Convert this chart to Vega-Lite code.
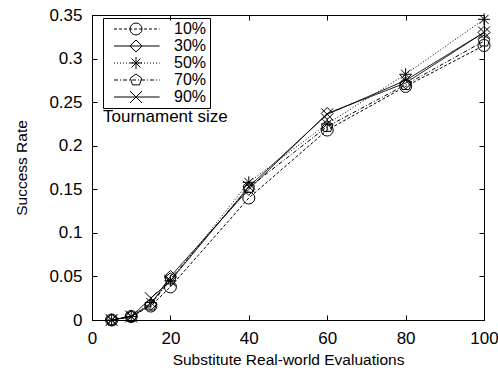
{
  "$schema": "https://vega.github.io/schema/vega-lite/v6.json",
  "width": 392,
  "height": 305,
  "autosize": {"type": "none"},
  "padding": {"left": 92, "top": 15, "right": 14, "bottom": 61},
  "background": "white",
  "config": {
    "font": "Liberation Sans",
    "view": {"stroke": "black", "strokeWidth": 1},
    "axis": {
      "grid": false,
      "domain": false,
      "labelFlush": false,
      "labelOverlap": false,
      "tickColor": "black",
      "tickSize": -5,
      "labelColor": "black",
      "labelFontSize": 17,
      "titleFontSize": 15.5,
      "titleFontWeight": "normal",
      "titleColor": "black"
    }
  },
  "data": {
    "values": [
      {"x": 5, "rate": 0.0, "size": "10%"},
      {"x": 10, "rate": 0.004, "size": "10%"},
      {"x": 15, "rate": 0.016, "size": "10%"},
      {"x": 20, "rate": 0.038, "size": "10%"},
      {"x": 40, "rate": 0.14, "size": "10%"},
      {"x": 60, "rate": 0.218, "size": "10%"},
      {"x": 80, "rate": 0.268, "size": "10%"},
      {"x": 100, "rate": 0.315, "size": "10%"},
      {"x": 5, "rate": 0.0, "size": "30%"},
      {"x": 10, "rate": 0.004, "size": "30%"},
      {"x": 15, "rate": 0.018, "size": "30%"},
      {"x": 20, "rate": 0.05, "size": "30%"},
      {"x": 40, "rate": 0.15, "size": "30%"},
      {"x": 60, "rate": 0.237, "size": "30%"},
      {"x": 80, "rate": 0.272, "size": "30%"},
      {"x": 100, "rate": 0.33, "size": "30%"},
      {"x": 5, "rate": 0.0, "size": "50%"},
      {"x": 10, "rate": 0.004, "size": "50%"},
      {"x": 15, "rate": 0.02, "size": "50%"},
      {"x": 20, "rate": 0.045, "size": "50%"},
      {"x": 40, "rate": 0.158, "size": "50%"},
      {"x": 60, "rate": 0.225, "size": "50%"},
      {"x": 80, "rate": 0.282, "size": "50%"},
      {"x": 100, "rate": 0.345, "size": "50%"},
      {"x": 5, "rate": 0.0, "size": "70%"},
      {"x": 10, "rate": 0.004, "size": "70%"},
      {"x": 15, "rate": 0.017, "size": "70%"},
      {"x": 20, "rate": 0.047, "size": "70%"},
      {"x": 40, "rate": 0.152, "size": "70%"},
      {"x": 60, "rate": 0.222, "size": "70%"},
      {"x": 80, "rate": 0.27, "size": "70%"},
      {"x": 100, "rate": 0.32, "size": "70%"},
      {"x": 5, "rate": 0.0, "size": "90%"},
      {"x": 10, "rate": 0.004, "size": "90%"},
      {"x": 15, "rate": 0.025, "size": "90%"},
      {"x": 20, "rate": 0.045, "size": "90%"},
      {"x": 40, "rate": 0.153, "size": "90%"},
      {"x": 60, "rate": 0.236, "size": "90%"},
      {"x": 80, "rate": 0.275, "size": "90%"},
      {"x": 100, "rate": 0.33, "size": "90%"}
    ]
  },
  "resolve": {"axis": {"x": "independent", "y": "independent"}},
  "layer": [
    {
      "mark": {"type": "line", "color": "black", "strokeWidth": 1},
      "encoding": {
        "x": {"field": "x", "type": "quantitative", "scale": {"domain": [0, 100], "nice": false},
              "axis": {"title": "Substitute Real-world Evaluations", "values": [0, 20, 40, 60, 80, 100], "labelPadding": 15, "titlePadding": 6}},
        "y": {"field": "rate", "type": "quantitative", "scale": {"domain": [0, 0.35], "nice": false},
              "axis": {"title": "Success Rate", "values": [0, 0.05, 0.1, 0.15, 0.2, 0.25, 0.3, 0.35], "format": ".2~f", "labelPadding": 15, "titlePadding": 19}},
        "strokeDash": {
          "field": "size", "type": "nominal",
          "scale": {"domain": ["10%", "30%", "50%", "70%", "90%"], "range": [[3, 2], [1, 0], [1, 2], [4, 2, 1, 2], [1, 0]]},
          "legend": {
            "orient": "none", "legendX": 11, "legendY": 3,
            "title": null,
            "symbolType": "M0,0L8,0",
            "symbolSize": 130,
            "symbolStrokeColor": "black",
            "symbolStrokeWidth": 1,
            "strokeColor": "black",
            "padding": 3,
            "labelFontSize": 16,
            "labelColor": "black",
            "labelOffset": 52,
            "rowPadding": 1
          }
        }
      }
    },
    {
      "mark": {"type": "point", "color": "black", "filled": false, "size": 144, "strokeWidth": 1, "opacity": 1},
      "encoding": {
        "x": {"field": "x", "type": "quantitative", "scale": {"domain": [0, 100], "nice": false}, "axis": {"orient": "top", "labels": false, "title": null, "values": [0, 20, 40, 60, 80, 100]}},
        "y": {"field": "rate", "type": "quantitative", "scale": {"domain": [0, 0.35], "nice": false}, "axis": {"orient": "right", "labels": false, "title": null, "values": [0, 0.05, 0.1, 0.15, 0.2, 0.25, 0.3, 0.35]}},
        "shape": {
          "field": "size", "type": "nominal",
          "scale": {"range": ["circle", "diamond", "M-1,0L1,0M0,-1L0,1M-0.75,-0.75L0.75,0.75M-0.75,0.75L0.75,-0.75", "M0,-1L0.951,-0.309L0.588,0.809L-0.588,0.809L-0.951,-0.309Z", "M-1,-1L1,1M-1,1L1,-1"]},
          "legend": {
            "orient": "none", "legendX": 8, "legendY": 3,
            "title": "Tournament size",
            "titleOrient": "bottom",
            "titleFontSize": 17,
            "titleFontWeight": "normal",
            "titleColor": "black",
            "titlePadding": 4,
            "symbolSize": 144,
            "symbolOffset": 25,
            "symbolStrokeColor": "black",
            "symbolFillColor": "transparent",
            "symbolStrokeWidth": 1,
            "padding": 3,
            "labelFontSize": 16,
            "labelExpr": "''",
            "rowPadding": 1
          }
        }
      }
    }
  ]
}
